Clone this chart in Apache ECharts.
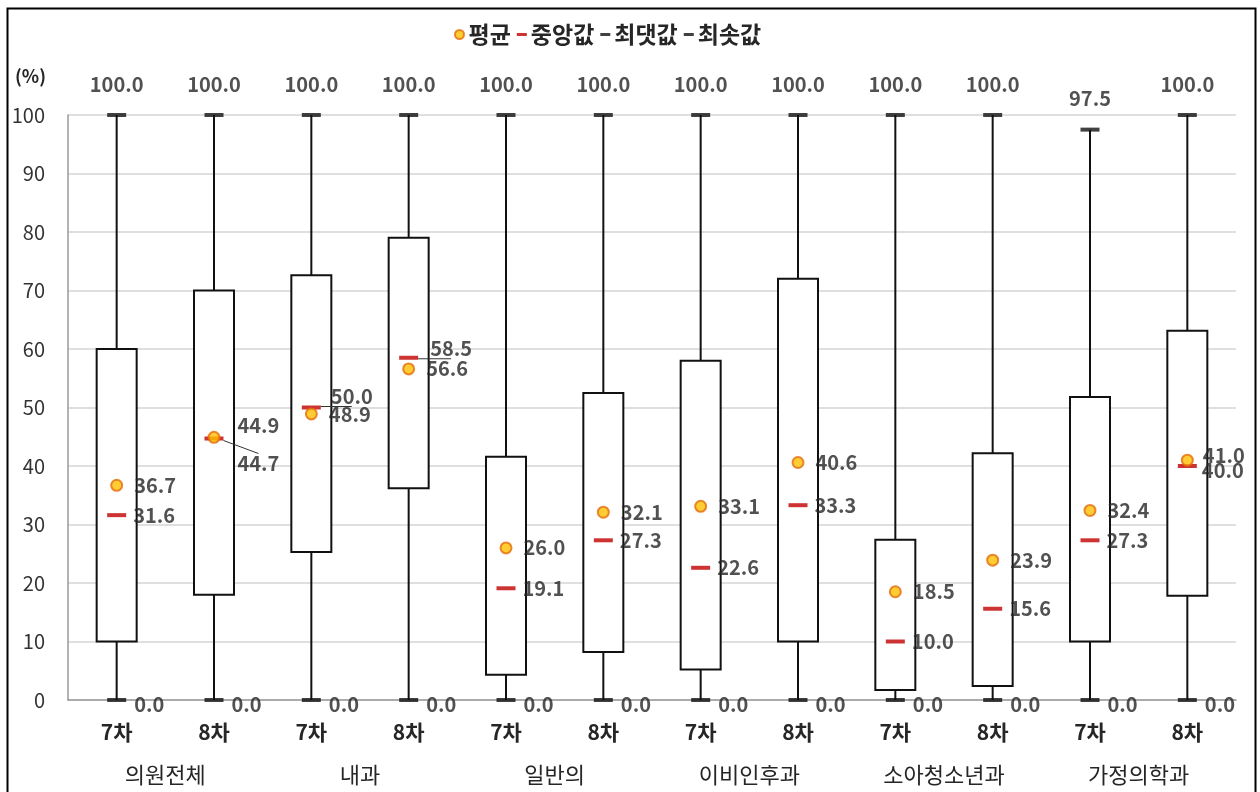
<!DOCTYPE html>
<html>
<head>
<meta charset="utf-8">
<script src="https://cdn.jsdelivr.net/npm/echarts@6/dist/echarts.min.js"></script>
<style>
  html, body { margin: 0; padding: 0; background: #fff; }
  #chart { width: 1260px; height: 792px; }
</style>
</head>
<body>
<div id="chart"></div>
<script>
// values
const categories = ['7차', '8차', '7차', '8차', '7차', '8차', '7차', '8차', '7차', '8차', '7차', '8차'];
const groups = ['의원전체', '내과', '일반의', '이비인후과', '소아청소년과', '가정의학과'];
const minValues = [0, 0, 0, 0, 0, 0, 0, 0, 0, 0, 0, 0];
const q1Values = [10, 18, 25.3, 36.2, 4.3, 8.2, 5.2, 10, 1.7, 2.4, 10, 17.8];
const q3Values = [60, 70, 72.6, 79, 41.6, 52.5, 58, 72, 27.4, 42.2, 51.8, 63.1];
const maxValues = [100, 100, 100, 100, 100, 100, 100, 100, 100, 100, 97.5, 100];
const medianValues = [31.6, 44.7, 50.0, 58.5, 19.1, 27.3, 22.6, 33.3, 10.0, 15.6, 27.3, 40.0];
const meanValues = [36.7, 44.9, 48.9, 56.6, 26.0, 32.1, 33.1, 40.6, 18.5, 23.9, 32.4, 41.0];

const FONT = '"Noto Sans CJK KR", "Noto Sans", sans-serif';
const TEXT = '#262626';

// labels that were moved away from their mark in the original
const meanNudge = { 1: [6, -12], 11: [-2, -5] };
const medianNudge = { 1: [7, 25], 2: [3, -11], 3: [5, -9], 11: [-2, 4] };
const leaderLines = [1, 2, 3];

var chart = echarts.init(document.getElementById('chart'));

function points(values, withLines) {
  return values.map(function (v, i) {
    var item = { value: [i, v] };
    if (withLines && withLines.indexOf(i) >= 0) {
      item.labelLine = { show: true, lineStyle: { color: '#333', width: 1 } };
    }
    return item;
  });
}

function nudge(table) {
  return function (p) {
    var d = table[p.dataIndex];
    return d ? { dx: d[0], dy: d[1] } : {};
  };
}

var fmt = function (p) { return p.value[1].toFixed(1); };
var labelBase = { color: TEXT, fontFamily: FONT, fontSize: 20, fontWeight: 'bold', formatter: fmt };

var dashIcon = 'path://M0,0 M0,3h10v3h-10z M10,9';

var option = {
  animation: false,
  textStyle: { fontFamily: FONT },
  graphic: [
    { type: 'rect', left: 5, top: 6, shape: { width: 1248, height: 800 }, style: { fill: 'none', stroke: '#000', lineWidth: 2 }, silent: true },
    { type: 'text', left: 15, top: 67, style: { text: '(%)', font: 'bold 18px ' + FONT, fill: TEXT } }
  ],
  legend: {
    top: 18,
    left: 449,
    itemGap: 6,
    itemWidth: 10,
    itemHeight: 9,
    textStyle: { fontFamily: FONT, fontSize: 23, fontWeight: 'bold', color: TEXT, padding: [0, 0, 0, -1] },
    data: [
      { name: '평균', icon: 'circle' },
      { name: '중앙값', icon: dashIcon },
      { name: '최댓값', icon: dashIcon },
      { name: '최솟값', icon: dashIcon }
    ]
  },
  grid: { left: 68, right: 24, top: 115, bottom: 92 },
  xAxis: [
    {
      type: 'category',
      data: categories,
      axisLine: { lineStyle: { color: '#9a9a9a', width: 1.5 } },
      axisTick: { show: false },
      axisLabel: { margin: 22, color: TEXT, fontSize: 21, fontWeight: 'bold', fontFamily: FONT }
    },
    {
      type: 'category',
      data: groups,
      position: 'bottom',
      offset: 56,
      axisLine: { show: false },
      axisTick: { show: false },
      axisLabel: { margin: 8, color: TEXT, fontSize: 22, fontFamily: FONT }
    }
  ],
  yAxis: {
    type: 'value',
    min: 0,
    max: 100,
    interval: 10,
    axisLine: { show: true, lineStyle: { color: '#9a9a9a', width: 1.5 } },
    axisTick: { show: false },
    axisLabel: { margin: 23, color: '#333', fontSize: 20, fontFamily: FONT },
    splitLine: { lineStyle: { color: '#d4d4d4', width: 1.5 } }
  },
  series: [
    {
      type: 'custom',
      name: 'box',
      z: 1,
      data: categories.map(function (c, i) {
        return [i, minValues[i], q1Values[i], q3Values[i], maxValues[i]];
      }),
      encode: { x: 0, y: [1, 2, 3, 4] },
      renderItem: function (params, api) {
        var x = api.coord([api.value(0), 0])[0];
        var yMin = api.coord([api.value(0), api.value(1)])[1];
        var yQ1 = api.coord([api.value(0), api.value(2)])[1];
        var yQ3 = api.coord([api.value(0), api.value(3)])[1];
        var yMax = api.coord([api.value(0), api.value(4)])[1];
        var w = 40;
        return {
          type: 'group',
          children: [
            { type: 'line', shape: { x1: x, y1: yMin, x2: x, y2: yMax }, style: { stroke: '#111', lineWidth: 2 } },
            { type: 'rect', shape: { x: x - w / 2, y: yQ3, width: w, height: yQ1 - yQ3 }, style: { fill: '#fff', stroke: '#111', lineWidth: 2 } }
          ]
        };
      }
    },
    {
      type: 'scatter',
      name: '최댓값',
      z: 3,
      symbol: 'rect',
      symbolSize: [19, 4],
      itemStyle: { color: '#111' },
      data: points(maxValues),
      label: Object.assign({ show: true, position: 'top', distance: 19 }, labelBase)
    },
    {
      type: 'scatter',
      name: '최솟값',
      z: 3,
      symbol: 'rect',
      symbolSize: [19, 4],
      itemStyle: { color: '#111' },
      data: points(minValues),
      label: Object.assign({ show: true, position: 'right', distance: 8, offset: [0, 4] }, labelBase)
    },
    {
      type: 'scatter',
      name: '중앙값',
      z: 4,
      symbol: 'rect',
      symbolSize: [19, 4],
      itemStyle: { color: '#C00000' },
      data: points(medianValues, leaderLines),
      label: Object.assign({ show: true, position: 'right', distance: 7, offset: [0, 4] }, labelBase),
      labelLayout: nudge(medianNudge)
    },
    {
      type: 'scatter',
      name: '평균',
      z: 5,
      symbol: 'circle',
      symbolSize: 11,
      itemStyle: { color: '#FFC000', borderColor: '#E46C0A', borderWidth: 2 },
      data: points(meanValues),
      label: Object.assign({ show: true, position: 'right', distance: 11, offset: [0, 3] }, labelBase),
      labelLayout: nudge(meanNudge)
    }
  ]
};

chart.setOption(option);
</script>
</body>
</html>
